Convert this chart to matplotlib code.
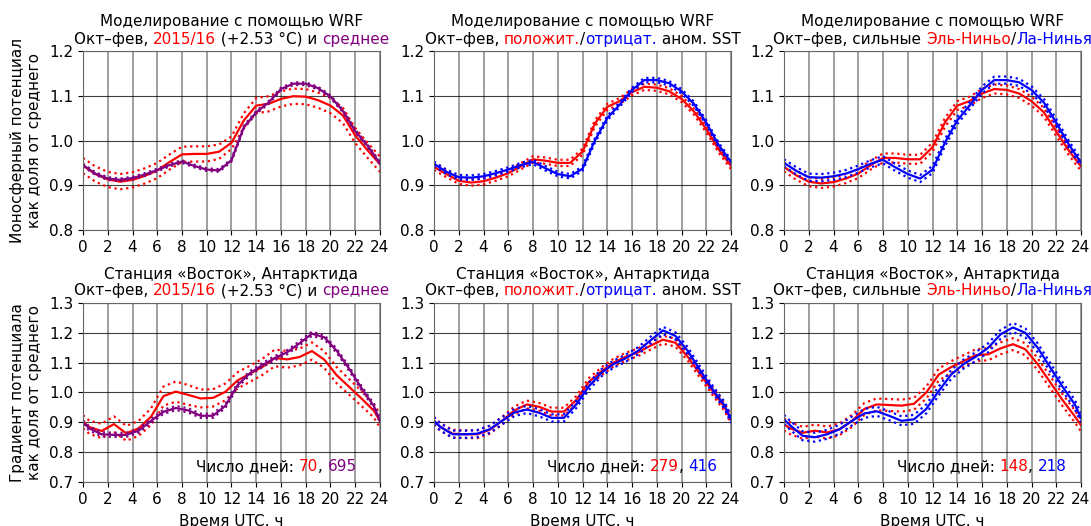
import matplotlib
matplotlib.use("Agg")
import matplotlib.pyplot as plt

# hours for WRF runs (top row) and for Vostok station half-hour bins (bottom row)
hours = [0, 1, 2, 3, 4, 5, 6, 7, 8, 9, 10, 11, 12, 13, 14, 15, 16, 17, 18, 19, 20, 21, 22, 23, 24]
half_hours = [0, 0.5, 1.5, 2.5, 3.5, 4.5, 5.5, 6.5, 7.5, 8.5, 9.5, 10.5, 11.5, 12.5,
              13.5, 14.5, 15.5, 16.5, 17.5, 18.5, 19.5, 20.5, 21.5, 22.5, 23.5, 24]

# --- WRF, 2015/16 vs mean
wrf_1516 = [0.944, 0.925, 0.913, 0.908, 0.912, 0.921, 0.933, 0.952, 0.969, 0.970, 0.970, 0.975, 0.995,
            1.045, 1.078, 1.082, 1.093, 1.099, 1.098, 1.090, 1.078, 1.056, 1.011, 0.978, 0.947]
wrf_1516_err = [0.017, 0.017, 0.017, 0.017, 0.017, 0.017, 0.017, 0.017, 0.017, 0.017, 0.017, 0.016, 0.014,
                0.016, 0.017, 0.017, 0.017, 0.017, 0.017, 0.017, 0.017, 0.017, 0.017, 0.017, 0.017]
wrf_mean = [0.945, 0.926, 0.915, 0.912, 0.916, 0.924, 0.934, 0.945, 0.953, 0.943, 0.935, 0.933, 0.956,
            1.030, 1.063, 1.085, 1.115, 1.127, 1.127, 1.117, 1.098, 1.066, 1.021, 0.988, 0.949]
wrf_mean_err = [0.003] * 25

# --- WRF, positive / negative SST anomaly
wrf_pos = [0.941, 0.925, 0.910, 0.906, 0.909, 0.917, 0.927, 0.942, 0.958, 0.955, 0.950, 0.950, 0.975,
           1.038, 1.075, 1.088, 1.108, 1.120, 1.118, 1.110, 1.093, 1.065, 1.025, 0.980, 0.943]
wrf_pos_err = [0.007] * 25
wrf_neg = [0.948, 0.930, 0.918, 0.917, 0.920, 0.927, 0.935, 0.945, 0.952, 0.938, 0.925, 0.920, 0.937,
           1.000, 1.050, 1.080, 1.113, 1.135, 1.135, 1.128, 1.110, 1.082, 1.040, 0.990, 0.952]
wrf_neg_err = [0.005] * 25

# --- WRF, strong El Nino / La Nina
wrf_nino = [0.941, 0.922, 0.908, 0.904, 0.907, 0.915, 0.926, 0.945, 0.961, 0.961, 0.958, 0.958, 0.985,
            1.040, 1.078, 1.088, 1.105, 1.115, 1.113, 1.105, 1.088, 1.063, 1.020, 0.978, 0.942]
wrf_nino_err = [0.010] * 25
wrf_nina = [0.950, 0.932, 0.918, 0.917, 0.920, 0.926, 0.936, 0.948, 0.957, 0.940, 0.925, 0.915, 0.935,
            0.995, 1.045, 1.078, 1.113, 1.135, 1.135, 1.130, 1.113, 1.085, 1.040, 0.992, 0.950]
wrf_nina_err = [0.008] * 25

# --- Vostok, 2015/16 vs mean
vos_1516 = [0.902, 0.884, 0.871, 0.894, 0.863, 0.880, 0.919, 0.988, 1.003, 0.992, 0.980, 0.982, 1.002,
            1.041, 1.063, 1.086, 1.116, 1.111, 1.119, 1.139, 1.110, 1.058, 1.019, 0.980, 0.939, 0.905]
vos_1516_err = [0.022, 0.022, 0.024, 0.026, 0.025, 0.025, 0.028, 0.032, 0.034, 0.033, 0.030, 0.029, 0.028,
                0.027, 0.027, 0.027, 0.028, 0.028, 0.028, 0.029, 0.028, 0.027, 0.026, 0.025, 0.023, 0.022]
vos_mean = [0.900, 0.880, 0.860, 0.858, 0.858, 0.872, 0.905, 0.935, 0.948, 0.940, 0.922, 0.922, 0.955,
            1.025, 1.065, 1.092, 1.115, 1.135, 1.165, 1.197, 1.185, 1.140, 1.080, 1.015, 0.955, 0.905]
vos_mean_err = [0.007] * 26

# --- Vostok, positive / negative SST anomaly
vos_pos = [0.905, 0.885, 0.862, 0.860, 0.860, 0.875, 0.905, 0.940, 0.960, 0.952, 0.936, 0.936, 0.975,
           1.035, 1.070, 1.100, 1.120, 1.135, 1.157, 1.177, 1.167, 1.120, 1.062, 1.005, 0.950, 0.908]
vos_pos_err = [0.013] * 26
vos_neg = [0.905, 0.885, 0.860, 0.860, 0.862, 0.877, 0.905, 0.933, 0.943, 0.932, 0.915, 0.915, 0.960,
           1.020, 1.065, 1.095, 1.115, 1.140, 1.175, 1.208, 1.190, 1.140, 1.075, 1.012, 0.955, 0.910]
vos_neg_err = [0.012] * 26

# --- Vostok, strong El Nino / La Nina
vos_nino = [0.893, 0.880, 0.865, 0.872, 0.866, 0.877, 0.905, 0.945, 0.960, 0.958, 0.956, 0.962, 1.000,
            1.060, 1.085, 1.105, 1.125, 1.128, 1.148, 1.162, 1.145, 1.095, 1.035, 0.975, 0.920, 0.890]
vos_nino_err = [0.020] * 26
vos_nina = [0.910, 0.890, 0.855, 0.850, 0.860, 0.877, 0.905, 0.930, 0.937, 0.922, 0.905, 0.910, 0.945,
            1.005, 1.060, 1.095, 1.120, 1.150, 1.195, 1.218, 1.200, 1.150, 1.085, 1.020, 0.960, 0.915]
vos_nina_err = [0.015] * 26

days_1516 = (70, 695)
days_sst = (279, 416)
days_enso = (148, 218)

PURPLE = "#800080"
FS = 11

fig = plt.figure(figsize=(10.91, 5.26), dpi=100)
renderer = fig.canvas.get_renderer()

left_px = [83, 434, 784]
top_px = [51, 303]
W, H = 1091.0, 526.0


def make_ax(col, row):
    x0 = left_px[col] / W
    y0 = 1 - (top_px[row] + 179) / H
    return fig.add_axes([x0, y0, 297 / W, 179 / H])


def text_width(s):
    t = fig.text(0, 0, s, fontsize=FS)
    w = t.get_window_extent(renderer).width
    t.remove()
    return w


def colored_text(ax, x, y, parts, center=True):
    # draw a line of text made of several coloured pieces
    full = "".join(s for s, _ in parts)
    axw = ax.get_window_extent(renderer).width
    total = text_width(full)
    start = x - total / 2 / axw if center else x
    ref = text_width("x")
    prefix = ""
    for s, c in parts:
        off = text_width(prefix + "x") - ref if prefix else 0
        ax.text(start + off / axw, y, s, color=c, transform=ax.transAxes,
                fontsize=FS, va="center", ha="left")
        prefix += s


def draw_series(ax, x, y, err, color):
    lo = [a - e for a, e in zip(y, err)]
    hi = [a + e for a, e in zip(y, err)]
    ax.plot(x, y, color=color, lw=1.6)
    ax.plot(x, lo, color=color, lw=1.6, ls=":")
    ax.plot(x, hi, color=color, lw=1.6, ls=":")


def style(ax, ylim, yticks):
    ax.set_xlim(0, 24)
    ax.set_ylim(*ylim)
    ax.set_xticks(range(0, 25, 2))
    ax.set_yticks(yticks)
    ax.set_yticklabels([f"{v:.1f}" for v in yticks])
    ax.tick_params(labelsize=FS)
    ax.grid(True, axis="y", color="k", lw=0.8, alpha=0.75)
    ax.grid(True, axis="x", color="0.45", lw=1.2, alpha=0.8)
    ax.set_axisbelow(True)
    for sp in ax.spines.values():
        sp.set_color("0.4")


line2 = [
    [("Окт–фев, ", "k"), ("2015/16", "red"), (" (+2.53 °C) и ", "k"), ("среднее", PURPLE)],
    [("Окт–фев, ", "k"), ("положит.", "red"), ("/", "k"), ("отрицат.", "blue"), (" аном. SST", "k")],
    [("Окт–фев, сильные ", "k"), ("Эль-Ниньо", "red"), ("/", "k"), ("Ла-Нинья", "blue")],
]

top_sets = [
    (wrf_1516, wrf_1516_err, "red", wrf_mean, wrf_mean_err, PURPLE),
    (wrf_pos, wrf_pos_err, "red", wrf_neg, wrf_neg_err, "blue"),
    (wrf_nino, wrf_nino_err, "red", wrf_nina, wrf_nina_err, "blue"),
]
bottom_sets = [
    (vos_1516, vos_1516_err, "red", vos_mean, vos_mean_err, PURPLE, days_1516),
    (vos_pos, vos_pos_err, "red", vos_neg, vos_neg_err, "blue", days_sst),
    (vos_nino, vos_nino_err, "red", vos_nina, vos_nina_err, "blue", days_enso),
]

for col in range(3):
    # top row: WRF simulation
    ax = make_ax(col, 0)
    y1, e1, c1, y2, e2, c2 = top_sets[col]
    draw_series(ax, hours, y1, e1, c1)
    draw_series(ax, hours, y2, e2, c2)
    style(ax, (0.8, 1.2), [0.8, 0.9, 1.0, 1.1, 1.2])
    ax.text(0.5, 1.164, "Моделирование с помощью WRF", transform=ax.transAxes,
            ha="center", va="center", fontsize=FS)
    colored_text(ax, 0.5, 1.067, line2[col])
    if col == 0:
        ax.set_ylabel("Ионосферный потенциал\nкак доля от среднего", fontsize=FS, labelpad=5)

    # bottom row: Vostok station
    ax = make_ax(col, 1)
    y1, e1, c1, y2, e2, c2, days = bottom_sets[col]
    draw_series(ax, half_hours, y1, e1, c1)
    draw_series(ax, half_hours, y2, e2, c2)
    style(ax, (0.7, 1.3), [0.7, 0.8, 0.9, 1.0, 1.1, 1.2, 1.3])
    ax.text(0.5, 1.162, "Станция «Восток», Антарктида", transform=ax.transAxes,
            ha="center", va="center", fontsize=FS)
    colored_text(ax, 0.5, 1.069, line2[col])
    colored_text(ax, 0.38, 0.084, [("Число дней: ", "k"), (str(days[0]), "red"), (", ", "k"),
                                   (str(days[1]), c2)], center=False)
    ax.set_xlabel("Время UTC, ч", fontsize=FS, labelpad=5)
    if col == 0:
        ax.set_ylabel("Градиент потенциала\nкак доля от среднего", fontsize=FS, labelpad=5)

fig.savefig("out.png", dpi=100)
